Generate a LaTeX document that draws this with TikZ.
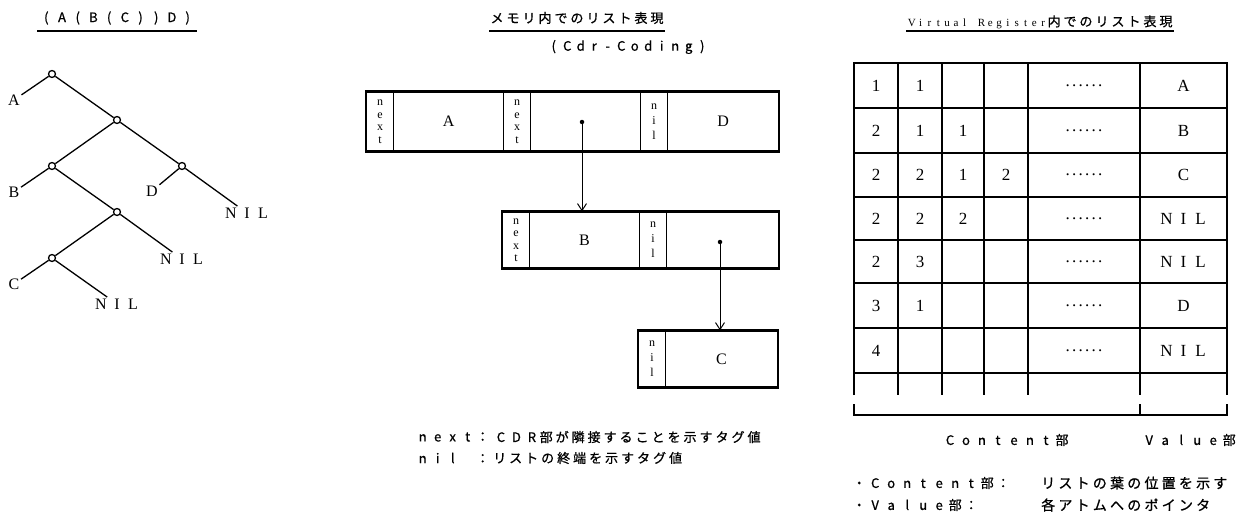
\documentclass[tikz,border=0pt]{standalone}
\usepackage{fontspec}
\setmainfont{Liberation Serif}
\usetikzlibrary{arrows.meta}
\newfontfamily\jp[LetterSpace=23,FakeBold=0.8]{Noto Sans CJK JP}
\newlength\fwd
\makeatletter
\def\fw#1{\fw@loop#1\relax}
\def\fw@loop#1{\ifx\relax#1\else\makebox[\fwd]{#1}\expandafter\fw@loop\fi}
\makeatother
\newcommand\fws[2]{\setlength\fwd{#1}\fw{#2}}
\begin{document}
\begin{tikzpicture}[x=1pt,y=-1pt,
  tn/.style={circle,draw,fill=white,line width=1.3pt,inner sep=0pt,minimum size=7pt},
  tl/.style={font=\fontsize{16}{16}\selectfont,inner sep=1.5pt},
  br/.style={line width=1.3pt},
  jpt/.style={font=\jp\fontsize{13}{15}\selectfont,inner sep=1pt},
  ul/.style={line width=1.6pt},
  cell/.style={draw,line width=1.1pt,inner sep=0pt,anchor=west},
  tagc/.style={cell,minimum width=27pt,font=\fontsize{12}{12.5}\selectfont,align=center},
  nilc/.style={cell,minimum width=27pt,font=\fontsize{12}{15}\selectfont,align=center},
  valc/.style={cell,font=\fontsize{16}{16}\selectfont},
  outer/.style={line width=2pt},
  dot/.style={circle,fill,inner sep=0pt,minimum size=4.5pt},
  ptr/.style={line width=1pt,-{Straight Barb[length=7pt,width=9pt]}},
  tgrid/.style={line width=1.2pt},
  touter/.style={line width=2pt},
  tc/.style={font=\fontsize{17}{17}\selectfont,inner sep=1pt},
  brk/.style={line width=1.2pt}]
\useasboundingbox[fill=white] (0,0) rectangle (1247,514);

% ---------- left: tree ----------
\node[jpt] (tt1) at (117,18) {\fws{15.7pt}{(A(B(C))D)}};
\draw[ul] (tt1.west |- 0,31) -- (tt1.east |- 0,31);

\node[tn] (n1) at (52,74) {};
\node[tn] (n2) at (117,120) {};
\node[tn] (n3) at (52,166) {};
\node[tn] (n4) at (182,166) {};
\node[tn] (n5) at (117,212) {};
\node[tn] (n6) at (52,258) {};
\node[tl] (lA) at (14,100) {A};
\node[tl] (lB) at (14,192) {B};
\node[tl] (lC) at (14,284) {C};
\node[tl] (lD) at (152,191) {D};
\node[tl] (nil1) at (247,213) {\fws{16pt}{NIL}};
\node[tl] (nil2) at (182,259) {\fws{16pt}{NIL}};
\node[tl] (nil3) at (117,304) {\fws{16pt}{NIL}};
\draw[br] (n1) -- (n2);
\draw[br] (n2) -- (n3);
\draw[br] (n2) -- (n4);
\draw[br] (n3) -- (n5);
\draw[br] (n5) -- (n6);
\draw[br] (n1) -- (lA);
\draw[br] (n3) -- (lB);
\draw[br] (n6) -- (lC);
\draw[br] (n4) -- (lD);
\draw[br] (n4) -- (nil1);
\draw[br] (n5) -- (nil2);
\draw[br] (n6) -- (nil3);

% ---------- middle: memory ----------
\node[jpt] (mt) at (577,18) {メモリ内でのリスト表現};
\draw[ul] (mt.west |- 0,31) -- (mt.east |- 0,31);
\node[jpt] (cdr) at (628,47) {\fws{13.5pt}{(Cdr-Coding)}};

% row 1
\node[tagc,minimum height=59pt] (r1t1) at (366,121.5) {n\\e\\x\\t};
\node[valc,minimum height=59pt,minimum width=110pt] (r1v1) at (393,121.5) {A};
\node[tagc,minimum height=59pt] (r1t2) at (503,121.5) {n\\e\\x\\t};
\node[valc,minimum height=59pt,minimum width=110pt] (r1v2) at (530,121.5) {};
\node[nilc,minimum height=59pt] (r1t3) at (640,121.5) {n\\i\\l};
\node[valc,minimum height=59pt,minimum width=111pt] (r1v3) at (667,121.5) {D};
\draw[outer] (r1t1.north west) rectangle (r1v3.south east);
% row 2
\node[tagc,minimum height=56pt] (r2t1) at (502,240) {n\\e\\x\\t};
\node[valc,minimum height=56pt,minimum width=110pt] (r2v1) at (529,240) {B};
\node[nilc,minimum height=56pt] (r2t2) at (639,240) {n\\i\\l};
\node[valc,minimum height=56pt,minimum width=112pt] (r2v2) at (666,240) {};
\draw[outer] (r2t1.north west) rectangle (r2v2.south east);
% row 3
\node[nilc,minimum height=56pt] (r3t1) at (638,359) {n\\i\\l};
\node[valc,minimum height=56pt,minimum width=112pt] (r3v1) at (665,359) {C};
\draw[outer] (r3t1.north west) rectangle (r3v1.south east);

\node[dot] (d1) at (582,122) {};
\node[dot] (d2) at (720,242) {};
\draw[ptr] (d1) -- (d1 |- r2v1.north);
\draw[ptr] (d2) -- (d2 |- r3v1.north);

% legend middle
\node[jpt,anchor=west] (lg1a) at (414,437) {\fws{15pt}{next：}};
\node[jpt,anchor=west] (lg1b) at (492,437) {\fws{15.5pt}{CDR}部が隣接することを示すタグ値};
\node[jpt,anchor=west] (lg2a) at (414,458) {\makebox[60pt][l]{\fws{15pt}{nil}}\fws{15pt}{：}};
\node[jpt,anchor=west] (lg2b) at (492,458) {リストの終端を示すタグ値};

% ---------- right: virtual register ----------
\node[inner sep=1pt] (rt) at (1040,22) {{\fontsize{11}{11}\selectfont\fws{8.8pt}{Virtual}\hspace{8pt}\fws{8.8pt}{Register}}{\jp\fontsize{13}{15}\selectfont 内でのリスト表現}};
\draw[ul] (rt.west |- 0,31) -- (rt.east |- 0,31);

\foreach \yy in {108,153,197,240,283,328,373} \draw[tgrid] (854,\yy) -- (1227,\yy);
\foreach \xx in {898,942,984,1028} \draw[tgrid] (\xx,63) -- (\xx,395);
\draw[touter] (854,395) -- (854,63) -- (1227,63) -- (1227,395);
\draw[line width=2.6pt] (1140,63) -- (1140,395);

% row 1
\node[tc] (c1a) at (876,85.5) {1};
\node[tc] (c1b) at (920,85.5) {1};
\node[tc] (c1e) at (1084,85.5) {\fws{6.5pt}{......}};
\node[tc] (c1v) at (1183.5,85.5) {A};
% row 2
\node[tc] (c2a) at (876,130.5) {2};
\node[tc] (c2b) at (920,130.5) {1};
\node[tc] (c2c) at (963,130.5) {1};
\node[tc] (c2e) at (1084,130.5) {\fws{6.5pt}{......}};
\node[tc] (c2v) at (1183.5,130.5) {B};
% row 3
\node[tc] (c3a) at (876,175) {2};
\node[tc] (c3b) at (920,175) {2};
\node[tc] (c3c) at (963,175) {1};
\node[tc] (c3d) at (1006,175) {2};
\node[tc] (c3e) at (1084,175) {\fws{6.5pt}{......}};
\node[tc] (c3v) at (1183.5,175) {C};
% row 4
\node[tc] (c4a) at (876,218.5) {2};
\node[tc] (c4b) at (920,218.5) {2};
\node[tc] (c4c) at (963,218.5) {2};
\node[tc] (c4e) at (1084,218.5) {\fws{6.5pt}{......}};
\node[tc] (c4v) at (1183.5,218.5) {\fws{17pt}{NIL}};
% row 5
\node[tc] (c5a) at (876,261.5) {2};
\node[tc] (c5b) at (920,261.5) {3};
\node[tc] (c5e) at (1084,261.5) {\fws{6.5pt}{......}};
\node[tc] (c5v) at (1183.5,261.5) {\fws{17pt}{NIL}};
% row 6
\node[tc] (c6a) at (876,305.5) {3};
\node[tc] (c6b) at (920,305.5) {1};
\node[tc] (c6e) at (1084,305.5) {\fws{6.5pt}{......}};
\node[tc] (c6v) at (1183.5,305.5) {D};
% row 7
\node[tc] (c7a) at (876,350.5) {4};
\node[tc] (c7e) at (1084,350.5) {\fws{6.5pt}{......}};
\node[tc] (c7v) at (1183.5,350.5) {\fws{17pt}{NIL}};

% bracket
\draw[brk] (854,404) -- (854,415) -- (1227,415) -- (1227,404);
\draw[brk] (1140,404) -- (1140,415);
\node[jpt] (cl) at (1006,440) {\fws{16pt}{Content部}};
\node[jpt,anchor=west] (vl) at (1140,440) {\fws{16pt}{Value部}};

% legend right
\node[jpt,anchor=west] (lg3a) at (850,483) {\fws{16pt}{・Content部：}};
\node[jpt,anchor=west] (lg3b) at (1040,483) {\fontsize{14}{15}\selectfont リストの葉の位置を示す};
\node[jpt,anchor=west] (lg4a) at (850,505) {\fws{16pt}{・Value部：}};
\node[jpt,anchor=west] (lg4b) at (1040,505) {\fontsize{14}{15}\selectfont 各アトムへのポインタ};
\end{tikzpicture}
\end{document}
